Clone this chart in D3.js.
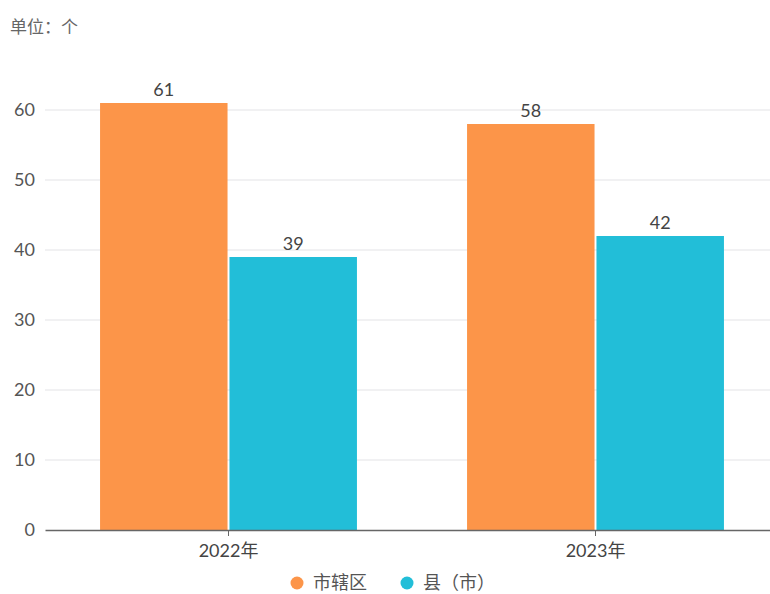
<!DOCTYPE html>
<meta charset="utf-8">
<script src="https://d3js.org/d3.v7.min.js"></script>
<style>
  body { margin: 0; background: #fff; }
  text { font-family: "Lato", "Noto Sans CJK SC", sans-serif; }
</style>
<body>
<div id="chart"></div>
<script>

// data
var years = ["2022年", "2023年"];
var seriesNames = ["市辖区", "县（市）"];
var cityDistrict = [61, 58];
var county = [39, 42];
var yTicks = [0, 10, 20, 30, 40, 50, 60];
var colors = ["#FC9549", "#22BED8"];

var width = 770, height = 594;
var margin = {top: 110, right: -9, bottom: 64, left: 45};

var svg = d3.select("#chart").append("svg")
    .attr("width", width)
    .attr("height", height);

var x = d3.scaleBand()
    .domain(years)
    .range([margin.left, width - margin.right])
    .paddingInner(0)
    .paddingOuter(0);

var y = d3.scaleLinear()
    .domain([0, 60])
    .range([height - margin.bottom, margin.top]);

var groupW = x.bandwidth() * 0.7;
var x1 = d3.scaleBand()
    .domain([0, 1])
    .range([0, groupW])
    .paddingInner(0.015);

// unit label
svg.append("text")
    .attr("x", 10).attr("y", 33)
    .style("font-size", "17px")
    .attr("fill", "#666")
    .text("单位：个");

// grid lines
svg.append("g")
  .selectAll("line")
  .data(yTicks.slice(1))
  .join("line")
    .attr("x1", margin.left).attr("x2", width)
    .attr("y1", d => y(d)).attr("y2", d => y(d))
    .attr("stroke", "#e3e3e6")
    .attr("stroke-width", 1);

// y axis labels
var yAxis = svg.append("g")
    .attr("transform", "translate(" + margin.left + ",0)")
    .call(d3.axisLeft(y).tickValues(yTicks).tickSize(0).tickPadding(10));
yAxis.select(".domain").remove();
yAxis.selectAll("text")
    .style("font-size", "18px")
    .attr("fill", "#555");

var rows = years.map(function(yr, i) {
  return { year: yr, vals: [cityDistrict[i], county[i]] };
});

var groups = svg.append("g")
  .selectAll("g")
  .data(rows)
  .join("g")
    .attr("transform", d => "translate(" + (x(d.year) + x.bandwidth() / 2 - groupW / 2) + ",0)");

groups.selectAll("rect")
  .data(d => d.vals)
  .join("rect")
    .attr("x", (d, i) => x1(i))
    .attr("width", x1.bandwidth())
    .attr("y", d => y(d))
    .attr("height", d => y(0) - y(d))
    .attr("fill", (d, i) => colors[i]);

groups.selectAll("text.val")
  .data(d => d.vals)
  .join("text")
    .attr("class", "val")
    .attr("x", (d, i) => x1(i) + x1.bandwidth() / 2)
    .attr("y", d => y(d) - 7)
    .attr("text-anchor", "middle")
    .style("font-size", "18px")
    .attr("fill", "#444")
    .text(d => d);

// x axis
var xAxis = svg.append("g")
    .attr("transform", "translate(0," + y(0) + ")")
    .call(d3.axisBottom(x).tickSize(6).tickPadding(8).tickSizeOuter(0));
xAxis.select(".domain")
    .attr("stroke", "#666")
    .attr("stroke-width", 1.5);
xAxis.selectAll(".tick line").attr("stroke", "#666");
xAxis.selectAll("text")
    .style("font-size", "18px")
    .attr("fill", "#444");

// legend
var legendX = [297, 407];
var legend = svg.append("g")
  .selectAll("g")
  .data(seriesNames)
  .join("g")
    .attr("transform", (d, i) => "translate(" + legendX[i] + ",583)");
legend.append("circle")
    .attr("r", 6.5)
    .attr("fill", (d, i) => colors[i]);
legend.append("text")
    .attr("x", 16).attr("y", 6)
    .style("font-size", "18px")
    .attr("fill", "#555")
    .text(d => d);

</script>
</body>
